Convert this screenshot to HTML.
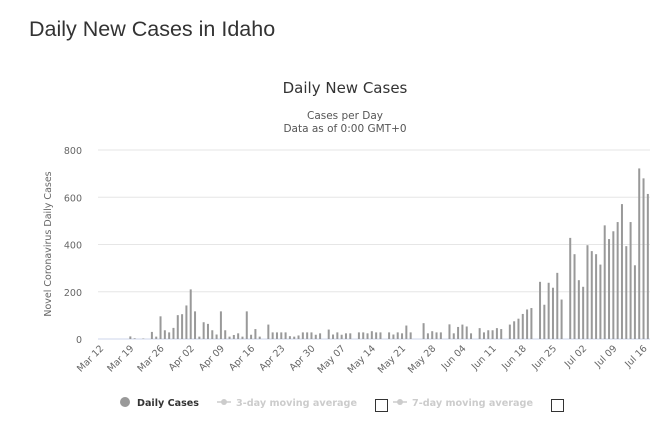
<!DOCTYPE html>
<html><head><meta charset="utf-8">
<style>
body{margin:0;background:#fff;width:660px;height:434px;overflow:hidden;}
#title{position:absolute;left:29px;top:17px;font:21.5px "Liberation Sans",sans-serif;color:#333;margin:0;font-weight:normal}
svg{position:absolute;left:0;top:0}
</style></head>
<body>
<h1 id="title">Daily New Cases in Idaho</h1>
<svg id="chart" width="660" height="434" font-family="'DejaVu Sans',Verdana,sans-serif"></svg>
<script>
const dayCount = 128;
const yTicks = [0, 200, 400, 600, 800];
const xTickLabels = ["Mar 12","Mar 19","Mar 26","Apr 02","Apr 09","Apr 16","Apr 23","Apr 30","May 07","May 14","May 21","May 28","Jun 04","Jun 11","Jun 18","Jun 25","Jul 02","Jul 09","Jul 16"];
const barDays = [7,8,10,12,13,14,15,16,17,18,19,20,21,22,23,24,25,26,27,28,29,30,31,32,33,34,35,36,37,39,40,41,42,43,44,45,46,47,48,49,50,51,53,54,55,56,57,58,60,61,62,63,64,65,67,68,69,70,71,72,75,76,77,78,79,81,82,83,84,85,86,88,89,90,91,92,93,95,96,97,98,99,100,102,103,104,105,106,107,109,110,111,112,113,114,115,116,117,118,119,120,121,122,123,124,125,126,127];
const barValues = [11,3,2,30,10,96,37,28,47,101,105,142,210,117,10,71,64,37,19,117,37,10,17,24,10,117,18,42,10,61,28,28,28,28,12,10,15,28,28,28,18,24,40,19,28,18,24,24,28,28,24,33,28,28,28,19,28,24,57,28,67,24,33,28,28,62,24,51,61,53,24,46,28,37,37,46,42,61,75,86,106,125,131,242,145,238,217,280,167,428,359,249,221,397,372,359,315,481,423,456,495,571,393,495,312,722,680,614];

const svg = document.getElementById('chart');
const NS = 'http://www.w3.org/2000/svg';
const X0 = 98, X1 = 650, Y0 = 339, Y1 = 150;
const dayW = (X1 - X0) / dayCount;
function xScale(d){ return X0 + (d + 0.5) * dayW; }
function yScale(v){ return Y0 - (v / 800) * (Y0 - Y1); }
function mk(tag, attrs, parent){
  const e = document.createElementNS(NS, tag);
  for (const k in attrs) e.setAttribute(k, attrs[k]);
  (parent || svg).appendChild(e);
  return e;
}

let t = mk('text', {x:345, y:93, 'text-anchor':'middle', 'font-size':'15', fill:'#333'});


t.textContent = 'Daily New Cases';
t = mk('text', {x:345, y:119, 'text-anchor':'middle', 'font-size':'10.5', fill:'#555'});


t.textContent = 'Cases per Day';
t = mk('text', {x:345, y:132, 'text-anchor':'middle', 'font-size':'10.5', fill:'#555'});


t.textContent = 'Data as of 0:00 GMT+0';

yTicks.forEach(v => {
  const y = yScale(v);
  const g = mk('line', {x1:X0, x2:X1, y1:y, y2:y, stroke: v===0 ? '#ccd6eb' : '#e6e6e6', 'stroke-width':1});
  
  
  const l = mk('text', {x:82, y:y+4, 'text-anchor':'end', 'font-size':'9.5', fill:'#666'});
  
  
  l.textContent = v;
});

t = mk('text', {x:0, y:0, transform:'translate(51,244) rotate(-90)', 'text-anchor':'middle', 'font-size':'9.5', fill:'#666'});


t.textContent = 'Novel Coronavirus Daily Cases';

xTickLabels.forEach((lab, i) => {
  const x = xScale(i * 7);
  const l = mk('text', {x:0, y:0, transform:'translate(' + (x+4) + ',349) rotate(-45)', 'text-anchor':'end', 'font-size':'9.5', fill:'#666'});
  
  
  l.textContent = lab;
});

barDays.forEach((d, i) => {
  const x = xScale(d), y = yScale(barValues[i]);
  const b = mk('rect', {x:x-1, y:y, width:2, height:Y0-y, fill:'#999'});
  
  
});

const lg = mk('g', {});


let e = mk('circle', {cx:125, cy:402, r:5, fill:'#999'}, lg);


e = mk('text', {x:137, y:406, 'font-size':'10', 'font-weight':'bold', fill:'#333', textLength:62, lengthAdjust:'spacingAndGlyphs'}, lg);


e.textContent = 'Daily Cases';
e = mk('line', {x1:217, x2:231, y1:402, y2:402, stroke:'#ccc', 'stroke-width':1.5}, lg);


e = mk('circle', {cx:224, cy:402, r:3, fill:'#ccc'}, lg);


e = mk('text', {x:236, y:406, 'font-size':'10', 'font-weight':'bold', fill:'#ccc', textLength:121, lengthAdjust:'spacingAndGlyphs'}, lg);


e.textContent = '3-day moving average';
e = mk('rect', {x:375.5, y:399.5, width:12, height:12, fill:'#fff', stroke:'#333'}, lg);


e = mk('line', {x1:393, x2:407, y1:402, y2:402, stroke:'#ccc', 'stroke-width':1.5}, lg);


e = mk('circle', {cx:400, cy:402, r:3, fill:'#ccc'}, lg);


e = mk('text', {x:412, y:406, 'font-size':'10', 'font-weight':'bold', fill:'#ccc', textLength:121, lengthAdjust:'spacingAndGlyphs'}, lg);


e.textContent = '7-day moving average';
e = mk('rect', {x:551.5, y:399.5, width:12, height:12, fill:'#fff', stroke:'#333'}, lg);


</script>
</body></html>
